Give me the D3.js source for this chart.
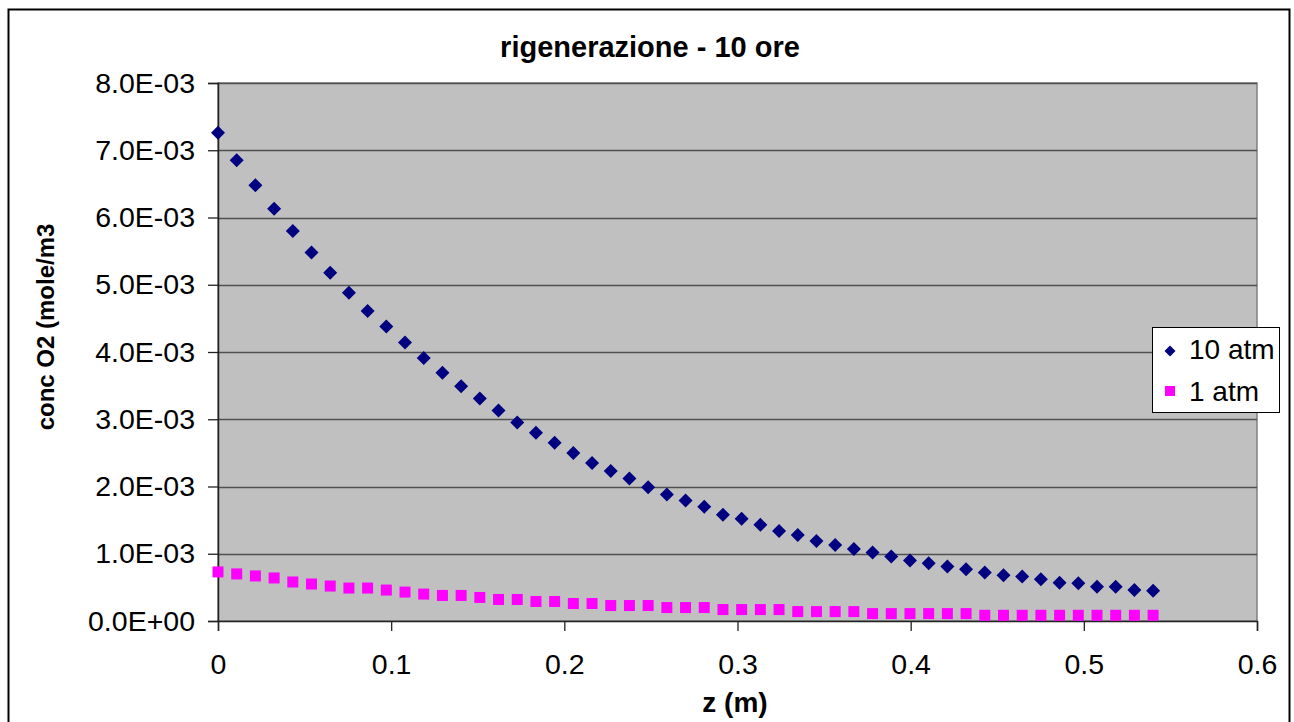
<!DOCTYPE html>
<html>
<head>
<meta charset="utf-8">
<script src="https://cdn.jsdelivr.net/npm/d3@7"></script>
<style>
  html, body { margin: 0; padding: 0; background: #fff; }
  svg { display: block; font-family: "Liberation Sans", Arial, sans-serif; }
</style>
</head>
<body>
<svg id="chart" width="1294" height="722"></svg>
<script>
// Position along the bed, z (m)
const zValues = [0, 0.0108, 0.0216, 0.0324, 0.0432, 0.054, 0.0648, 0.0756, 0.0864, 0.0972,
  0.108, 0.1188, 0.1296, 0.1404, 0.1512, 0.162, 0.1728, 0.1836, 0.1944, 0.2052,
  0.216, 0.2268, 0.2376, 0.2484, 0.2592, 0.27, 0.2808, 0.2916, 0.3024, 0.3132,
  0.324, 0.3348, 0.3456, 0.3564, 0.3672, 0.378, 0.3888, 0.3996, 0.4104, 0.4212,
  0.432, 0.4428, 0.4536, 0.4644, 0.4752, 0.486, 0.4968, 0.5076, 0.5184, 0.5292, 0.54];

// O2 concentration at 10 atm (mole/m3)
const conc10atm = [7.26e-3, 6.85e-3, 6.48e-3, 6.13e-3, 5.80e-3, 5.48e-3, 5.18e-3, 4.88e-3, 4.61e-3, 4.38e-3,
  4.14e-3, 3.91e-3, 3.69e-3, 3.49e-3, 3.31e-3, 3.13e-3, 2.95e-3, 2.80e-3, 2.65e-3, 2.50e-3,
  2.35e-3, 2.23e-3, 2.12e-3, 1.99e-3, 1.88e-3, 1.79e-3, 1.70e-3, 1.58e-3, 1.52e-3, 1.43e-3,
  1.34e-3, 1.28e-3, 1.19e-3, 1.13e-3, 1.07e-3, 1.02e-3, 0.96e-3, 0.90e-3, 0.86e-3, 0.81e-3,
  0.77e-3, 0.72e-3, 0.68e-3, 0.66e-3, 0.62e-3, 0.57e-3, 0.56e-3, 0.51e-3, 0.51e-3, 0.46e-3, 0.45e-3];

// O2 concentration at 1 atm (mole/m3)
const conc1atm = [0.73e-3, 0.70e-3, 0.67e-3, 0.64e-3, 0.58e-3, 0.55e-3, 0.52e-3, 0.49e-3, 0.49e-3, 0.46e-3,
  0.43e-3, 0.40e-3, 0.38e-3, 0.38e-3, 0.35e-3, 0.32e-3, 0.32e-3, 0.29e-3, 0.29e-3, 0.26e-3,
  0.26e-3, 0.23e-3, 0.23e-3, 0.23e-3, 0.20e-3, 0.20e-3, 0.20e-3, 0.17e-3, 0.17e-3, 0.17e-3,
  0.17e-3, 0.14e-3, 0.14e-3, 0.14e-3, 0.14e-3, 0.11e-3, 0.11e-3, 0.11e-3, 0.11e-3, 0.11e-3,
  0.11e-3, 0.085e-3, 0.085e-3, 0.085e-3, 0.085e-3, 0.085e-3, 0.085e-3, 0.085e-3, 0.085e-3, 0.085e-3, 0.085e-3];

const seriesNames = ["10 atm", "1 atm"];
const xTicks = [0, 0.1, 0.2, 0.3, 0.4, 0.5, 0.6];
const xTickLabels = ["0", "0.1", "0.2", "0.3", "0.4", "0.5", "0.6"];
const yTicks = [0, 1e-3, 2e-3, 3e-3, 4e-3, 5e-3, 6e-3, 7e-3, 8e-3];
const yTickLabels = ["0.0E+00", "1.0E-03", "2.0E-03", "3.0E-03", "4.0E-03", "5.0E-03", "6.0E-03", "7.0E-03", "8.0E-03"];

const svg = d3.select("#chart");
const plot = { left: 218, top: 83, right: 1257, bottom: 621 };

const x = d3.scaleLinear().domain([0, 0.6]).range([plot.left, plot.right]);
const y = d3.scaleLinear().domain([0, 8e-3]).range([plot.bottom, plot.top]);

// outer chart frame
svg.append("rect")
  .attr("x", 8.5).attr("y", 9.5).attr("width", 1281).attr("height", 730)
  .attr("fill", "#fff").attr("stroke", "#000").attr("stroke-width", 2);

// plot area
svg.append("rect")
  .attr("x", plot.left).attr("y", plot.top)
  .attr("width", plot.right - plot.left).attr("height", plot.bottom - plot.top)
  .attr("fill", "#c0c0c0").attr("stroke", "#808080").attr("stroke-width", 1.5);

// horizontal gridlines
svg.append("g")
  .selectAll("line")
  .data(yTicks.slice(1))
  .join("line")
  .attr("x1", plot.left).attr("x2", plot.right)
  .attr("y1", d => Math.round(y(d)) + 0.5).attr("y2", d => Math.round(y(d)) + 0.5)
  .attr("stroke", "#505050").attr("stroke-width", 1.3);

// y axis
const yAxis = d3.axisLeft(y)
  .tickValues(yTicks)
  .tickFormat((d, i) => yTickLabels[i])
  .tickSize(10)
  .tickPadding(13);
const gy = svg.append("g").attr("transform", `translate(${plot.left},0)`).call(yAxis);
gy.select(".domain").attr("stroke", "#222").attr("stroke-width", 1.5);
gy.selectAll(".tick line").attr("stroke", "#222").attr("stroke-width", 1.3);
gy.selectAll(".tick text").attr("font-size", 28.5).attr("fill", "#000")
  .attr("font-family", "Liberation Sans, Arial, sans-serif");

// x axis
const xAxis = d3.axisBottom(x)
  .tickValues(xTicks)
  .tickFormat((d, i) => xTickLabels[i])
  .tickSize(10)
  .tickPadding(23);
const gx = svg.append("g").attr("transform", `translate(0,${plot.bottom})`).call(xAxis);
gx.select(".domain").attr("stroke", "#222").attr("stroke-width", 1.5);
gx.selectAll(".tick line").attr("stroke", "#222").attr("stroke-width", 1.3);
gx.selectAll(".tick text").attr("font-size", 28.5).attr("fill", "#000")
  .attr("font-family", "Liberation Sans, Arial, sans-serif");

// series markers
function diamondPath(s) {
  return `M0,${-s}L${s},0L0,${s}L${-s},0Z`;
}

svg.append("g")
  .selectAll("path")
  .data(zValues.map((z, i) => [z, conc10atm[i]]))
  .join("path")
  .attr("d", diamondPath(7))
  .attr("transform", d => `translate(${x(d[0])},${y(d[1])})`)
  .attr("fill", "#000080");

svg.append("g")
  .selectAll("rect")
  .data(zValues.map((z, i) => [z, conc1atm[i]]))
  .join("rect")
  .attr("x", d => x(d[0]) - 5.5).attr("y", d => y(d[1]) - 5.5)
  .attr("width", 11).attr("height", 11)
  .attr("fill", "#ff00ff");

// title
svg.append("text")
  .attr("x", 650).attr("y", 57)
  .attr("text-anchor", "middle")
  .attr("font-size", 29).attr("font-weight", "bold")
  .text("rigenerazione - 10 ore");

// axis titles
svg.append("text")
  .attr("x", 735).attr("y", 712)
  .attr("text-anchor", "middle")
  .attr("font-size", 28).attr("font-weight", "bold")
  .text("z (m)");

svg.append("text")
  .attr("transform", "translate(54,327) rotate(-90)")
  .attr("text-anchor", "middle")
  .attr("font-size", 24).attr("font-weight", "bold")
  .text("conc O2 (mole/m3");

// legend
const legend = svg.append("g");
legend.append("rect")
  .attr("x", 1152.5).attr("y", 327.5).attr("width", 127).attr("height", 85)
  .attr("fill", "#fff").attr("stroke", "#000").attr("stroke-width", 1);
legend.append("path")
  .attr("d", diamondPath(5.5))
  .attr("transform", "translate(1170,351)")
  .attr("fill", "#000080");
legend.append("rect")
  .attr("x", 1165).attr("y", 386).attr("width", 10).attr("height", 10)
  .attr("fill", "#ff00ff");
legend.selectAll("text.lbl")
  .data(seriesNames)
  .join("text")
  .attr("class", "lbl")
  .attr("x", 1189).attr("y", (d, i) => 359 + i * 42)
  .attr("font-size", 28)
  .text(d => d);
</script>
</body>
</html>
